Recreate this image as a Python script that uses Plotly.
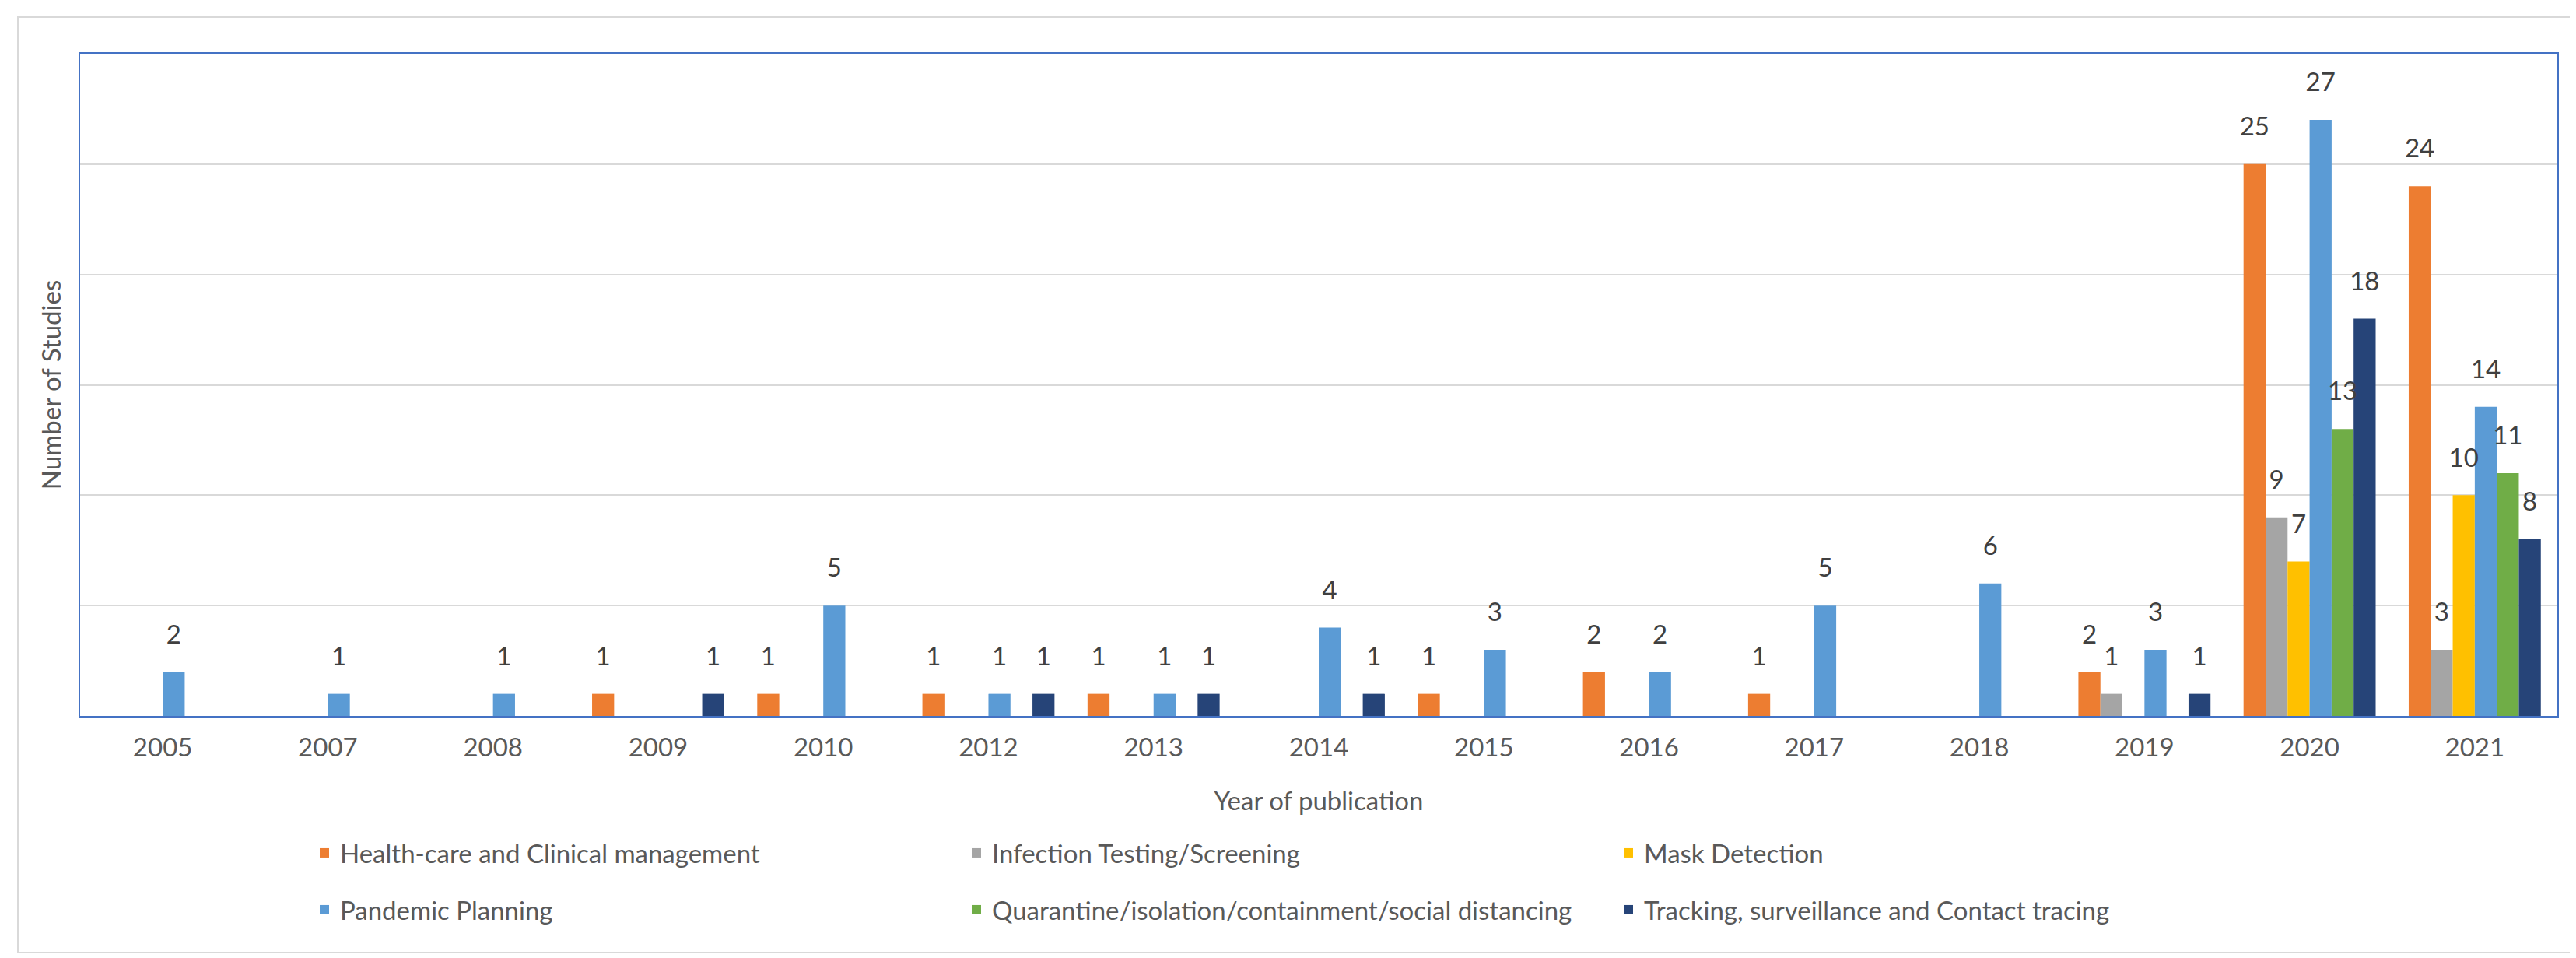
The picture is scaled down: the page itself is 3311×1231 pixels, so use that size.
import plotly.graph_objects as go

# publication years shown on the axis (no 2006 / 2011)
years = ['2005', '2007', '2008', '2009', '2010', '2012', '2013', '2014',
         '2015', '2016', '2017', '2018', '2019', '2020', '2021']

health = [0, 0, 0, 1, 1, 1, 1, 0, 1, 2, 1, 0, 2, 25, 24]
testing = [0, 0, 0, 0, 0, 0, 0, 0, 0, 0, 0, 0, 1, 9, 3]
mask = [0, 0, 0, 0, 0, 0, 0, 0, 0, 0, 0, 0, 0, 7, 10]
planning = [2, 1, 1, 0, 5, 1, 1, 4, 3, 2, 5, 6, 3, 27, 14]
quarantine = [0, 0, 0, 0, 0, 0, 0, 0, 0, 0, 0, 0, 0, 13, 11]
tracking = [0, 0, 0, 1, 0, 1, 1, 1, 0, 0, 0, 0, 1, 18, 8]

names = ['Health-care and Clinical management', 'Infection Testing/Screening',
         'Mask Detection', 'Pandemic Planning',
         'Quarantine/isolation/containment/social distancing',
         'Tracking, surveillance and Contact tracing']
colors = ['#ED7D31', '#A5A5A5', '#FFC000', '#5B9BD5', '#70AD47', '#264478']
series = [health, testing, mask, planning, quarantine, tracking]

FONT = 'Lato'
W, H = 3311, 1231
L, R, T, B = 95, 32, 61, 319
pw, ph = W - L - R, H - T - B


def px_x(v):
    return (v - L) / pw


def px_y(v):
    return (H - B - v) / ph


fig = go.Figure()

for i, (name, vals, col) in enumerate(zip(names, series, colors)):
    fig.add_trace(go.Bar(
        x=years, y=vals, name=name, marker=dict(color=col, line=dict(width=0)),
        offsetgroup=str(i), legend='legend' if i < 3 else 'legend2',
        hoverinfo='x+y+name'))

# data labels (only non-zero values), aligned with the grouped bars
for i, vals in enumerate(series):
    fig.add_trace(go.Scatter(
        x=years, y=[v if v else None for v in vals],
        text=[str(v) if v else '' for v in vals],
        mode='markers+text', textposition='top center',
        marker=dict(size=44, opacity=0),
        textfont=dict(family=FONT, size=33, color='#404040'),
        offsetgroup=str(i), showlegend=False, hoverinfo='skip',
        cliponaxis=False))

legend_style = dict(orientation='h', xanchor='left', yanchor='middle',
                    entrywidth=793, entrywidthmode='pixels',
                    font=dict(family=FONT, size=33, color='#595959'),
                    bgcolor='rgba(0,0,0,0)')

fig.update_layout(
    width=W, height=H,
    margin=dict(l=L, r=R, t=T, b=B),
    paper_bgcolor='white', plot_bgcolor='white',
    barmode='group', bargap=0.2, bargroupgap=0,
    scattermode='group', scattergap=0.2,
    font=dict(family=FONT, size=33, color='#595959'),
    xaxis=dict(
        type='category', showline=True, mirror=True, linecolor='#4472C4',
        linewidth=2, ticks='', showgrid=False, ticklabelstandoff=10,
        tickfont=dict(family=FONT, size=33, color='#595959'),
        title=dict(text='Year of publication', standoff=40,
                   font=dict(family=FONT, size=33, color='#595959'))),
    yaxis=dict(
        range=[0, 30], dtick=5, showticklabels=False, ticks='',
        showline=True, mirror=True, linecolor='#4472C4', linewidth=2,
        gridcolor='#D9D9D9', gridwidth=2, zeroline=False,
        title=dict(text='Number of Studies', standoff=12,
                   font=dict(family=FONT, size=33, color='#595959'))),
    legend=dict(legend_style, x=px_x(389), y=px_y(1088)),
    legend2=dict(legend_style, x=px_x(389), y=px_y(1161)),
    shapes=[dict(type='rect', xref='paper', yref='paper',
                 x0=px_x(15), x1=px_x(3298), y0=px_y(1216), y1=px_y(14),
                 line=dict(color='#D9D9D9', width=2), layer='below')],
)

fig.write_html('out.html')
